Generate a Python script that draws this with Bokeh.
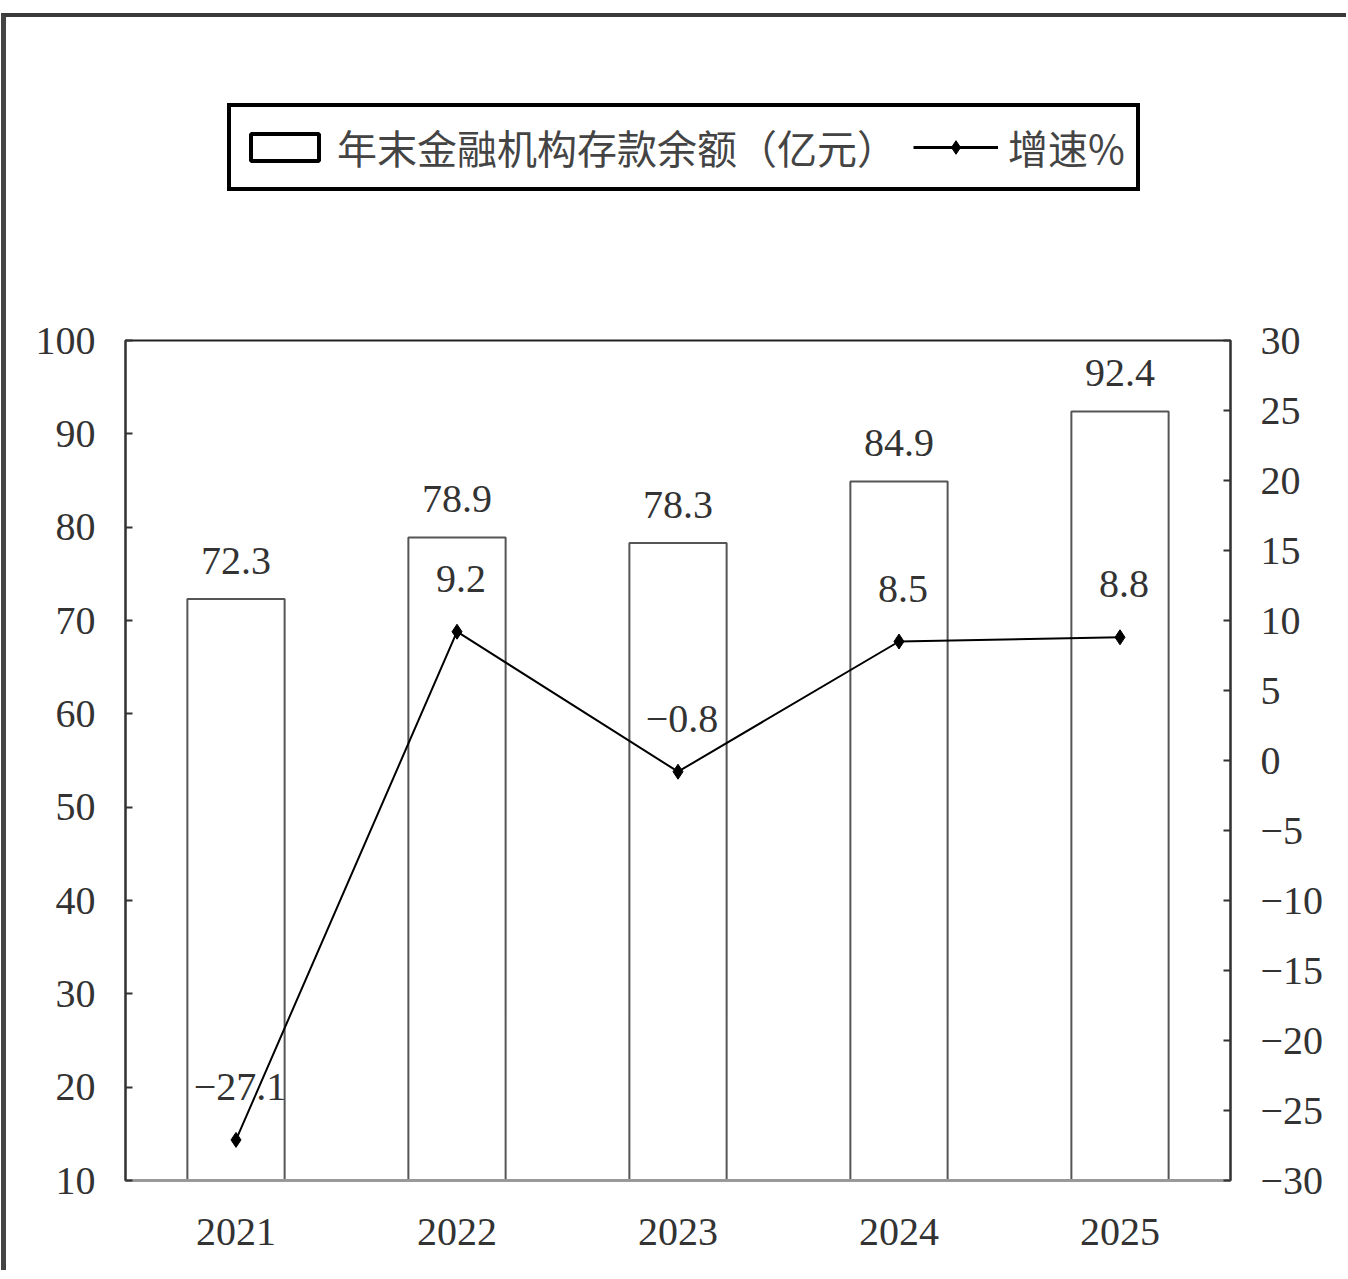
from bokeh.plotting import figure
from bokeh.models import (Range1d, LinearAxis, FixedTicker, ColumnDataSource, LabelSet,
                          Legend, LegendItem, FactorRange)
from bokeh.layouts import column
from bokeh.embed import file_html
from bokeh.resources import INLINE

years = ["2021", "2022", "2023", "2024", "2025"]
deposits = [72.3, 78.9, 78.3, 84.9, 92.4]
growth = [-27.1, 9.2, -0.8, 8.5, 8.8]
left_ticks = [10, 20, 30, 40, 50, 60, 70, 80, 90, 100]
right_ticks = [-30, -25, -20, -15, -10, -5, 0, 5, 10, 15, 20, 25, 30]

bar_name = "年末金融机构存款余额（亿元）"
line_name = "增速%"

SERIF = "Liberation Serif"
CJK = "Noto Sans CJK SC"
TXT = "#333333"
W = 1340

src = ColumnDataSource(dict(
    year=years, dep=deposits, gr=growth,
    dep_lbl=[f"{v:.1f}" for v in deposits],
    gr_lbl=[f"{v:.1f}".replace("-", "−") for v in growth],
))

# ---------- legend strip (frame is aligned with the main chart's frame) ----------
lg = figure(width=W, height=293, x_range=Range1d(0, 1), y_range=Range1d(0, 1),
            output_backend="svg", toolbar_location=None,
            min_border_left=0, min_border_right=0, min_border_top=0, min_border_bottom=0)
lg.axis.visible = False
lg.xgrid.visible = False
lg.ygrid.visible = False
lg.outline_line_color = None

# placeholder renderers lying outside the visible range, used only for the legend glyphs
dummy = ColumnDataSource(dict(x=[-5], y=[-5]))
lb = lg.rect(x="x", y="y", width=0.1, height=0.1, source=dummy, fill_color="white",
             line_color="black", line_width=4)
ll = lg.line(x="x", y="y", source=dummy, line_color="black", line_width=3)
lm = lg.scatter(x="x", y="y", source=dummy, marker="diamond", size=26,
                fill_color="black", line_color="black")
legend = Legend(items=[LegendItem(label=bar_name, renderers=[lb]),
                       LegendItem(label=line_name, renderers=[ll, lm])],
                orientation="horizontal", location=(102, 119),
                glyph_width=85, glyph_height=34, label_standoff=10, spacing=16,
                padding=11, margin=0,
                border_line_color="black", border_line_width=4, border_line_alpha=1,
                label_text_font=CJK, label_text_font_size="40px", label_text_color="#444444",
                background_fill_color="white", background_fill_alpha=1)
lg.add_layout(legend, "center")

# ---------- main chart ----------
p = figure(width=W, height=960, x_range=FactorRange(*years, range_padding=0),
           y_range=Range1d(10, 100), output_backend="svg", toolbar_location=None,
           min_border_left=119, min_border_right=116, min_border_top=30, min_border_bottom=90)
p.extra_y_ranges = {"g": Range1d(-30, 30)}
p.xgrid.visible = False
p.ygrid.visible = False
p.outline_line_color = "#222222"
p.outline_line_width = 2

p.vbar(x="year", top="dep", bottom=10, width=0.44, source=src,
       fill_color="white", line_color="#555555", line_width=2)
p.line(x="year", y="gr", source=src, y_range_name="g", line_color="black", line_width=2)
p.scatter(x="year", y="gr", source=src, y_range_name="g", marker="diamond",
          size=15, fill_color="black", line_color="black")

p.yaxis.ticker = FixedTicker(ticks=left_ticks)
ax_r = LinearAxis(y_range_name="g", ticker=FixedTicker(ticks=right_ticks),
                  major_label_overrides={t: str(t).replace("-", "−") for t in right_ticks})
p.add_layout(ax_r, "right")

for ax in [p.yaxis[0], ax_r]:
    ax.major_tick_in = 7
    ax.major_tick_out = 0
    ax.minor_tick_line_color = None
    ax.axis_line_color = "#333333"
    ax.axis_line_width = 2
    ax.major_tick_line_color = "#333333"
    ax.major_tick_line_width = 2
    ax.major_label_text_font = SERIF
    ax.major_label_text_font_size = "40px"
    ax.major_label_text_color = TXT
    ax.major_label_standoff = 30

xa = p.xaxis[0]
xa.major_tick_line_color = None
xa.minor_tick_line_color = None
xa.axis_line_color = "#999999"
xa.axis_line_width = 3
xa.major_label_text_font = SERIF
xa.major_label_text_font_size = "40px"
xa.major_label_text_color = TXT
xa.major_label_standoff = 32

p.add_layout(LabelSet(x="year", y="dep", text="dep_lbl", source=src, text_align="center",
                      text_baseline="bottom", y_offset=25, text_font=SERIF,
                      text_font_size="40px", text_color=TXT))
p.add_layout(LabelSet(x="year", y="gr", text="gr_lbl", source=src, y_range_name="g",
                      text_align="center", text_baseline="bottom", y_offset=40, x_offset=4,
                      text_font=SERIF, text_font_size="40px", text_color=TXT))

layout = column(lg, p, spacing=0,
                styles={"border-top": "4px solid #3a3a3a", "border-left": "5px solid #444444",
                        "margin-top": "13px", "margin-left": "1px"})

open("out.html", "w").write(file_html(layout, INLINE))
